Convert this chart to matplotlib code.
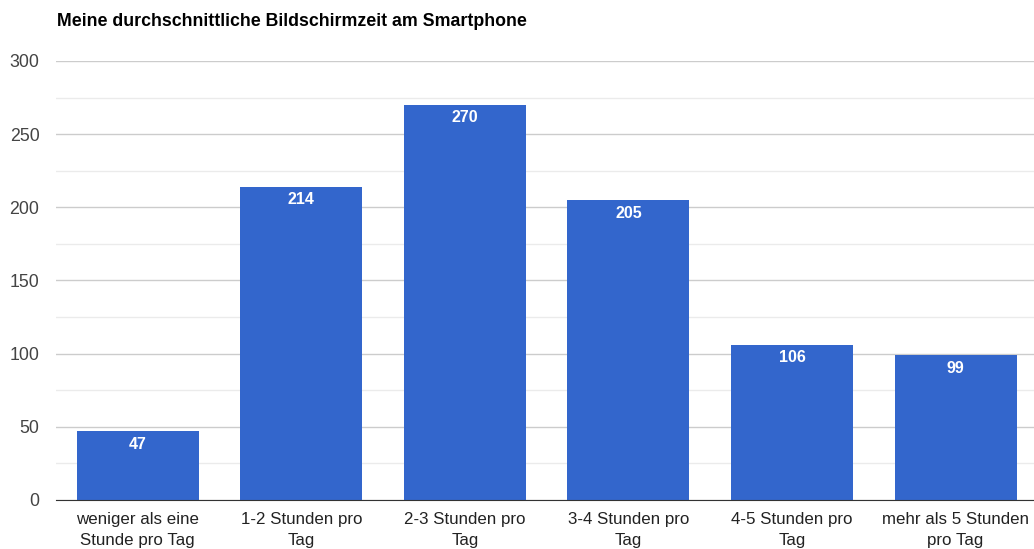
import matplotlib.pyplot as plt
from matplotlib.ticker import MultipleLocator

plt.rcParams['font.family'] = ['Liberation Sans', 'DejaVu Sans']

categories = ['weniger als eine\nStunde pro Tag', '1-2 Stunden pro\nTag', '2-3 Stunden pro\nTag',
              '3-4 Stunden pro\nTag', '4-5 Stunden pro\nTag', 'mehr als 5 Stunden\npro Tag']
values = [47, 214, 270, 205, 106, 99]
title = 'Meine durchschnittliche Bildschirmzeit am Smartphone'

fig = plt.figure(figsize=(10.34, 5.49), dpi=100)
ax = fig.add_axes([0.0542, 0.0893, 0.9458, 0.7996])

x = range(len(values))
bars = ax.bar(x, values, width=0.746, color='#3366cc', zorder=3)
for b, v in zip(bars, values):
    ax.annotate(str(v), (b.get_x() + b.get_width() / 2, v), xytext=(0, -4),
                textcoords='offset points', ha='center', va='top',
                color='white', fontsize=11.5, fontweight='bold', zorder=4)

ax.set_ylim(0, 300)
ax.set_xlim(-0.5, 5.48)
ax.yaxis.set_major_locator(MultipleLocator(50))
ax.yaxis.set_minor_locator(MultipleLocator(25))
ax.grid(axis='y', which='major', color='#cccccc', linewidth=1, zorder=0)
ax.grid(axis='y', which='minor', color='#ebebeb', linewidth=1, zorder=0)
ax.set_xticks(list(x))
ax.set_xticklabels(categories, fontsize=12.2, color='#222222', linespacing=1.45)
ax.tick_params(axis='y', which='both', length=0, labelsize=12.8, labelcolor='#444444', pad=12)
ax.tick_params(axis='x', length=0, pad=9)
for s in ['top', 'right', 'left']:
    ax.spines[s].set_visible(False)
ax.spines['bottom'].set_color('#333333')
ax.spines['bottom'].set_zorder(5)

fig.text(57 / 1034, 1 - 22 / 549, title, fontsize=12.8, fontweight='bold', va='center', ha='left')

fig.savefig('out.png', dpi=100)
